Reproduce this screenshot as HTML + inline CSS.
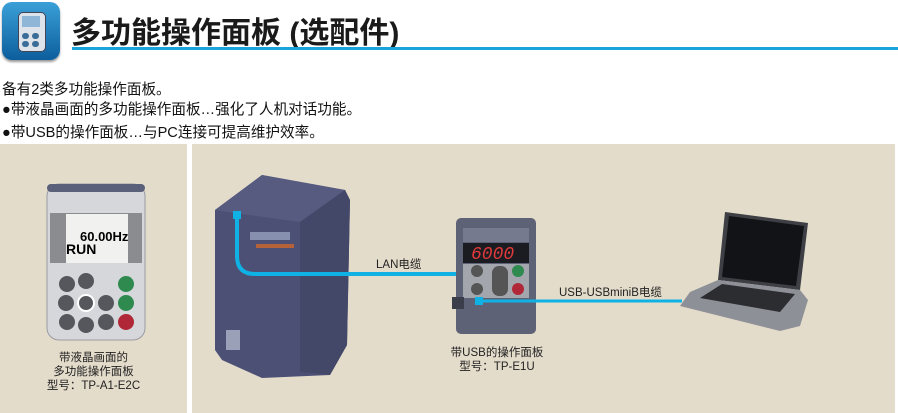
<!DOCTYPE html>
<html><head><meta charset="utf-8"><style>
body{margin:0;width:898px;height:413px;background:#fff;position:relative;overflow:hidden;font-family:"Liberation Sans","Noto Sans CJK SC",sans-serif;}
.a{position:absolute;}
.t{font-size:14.6px;color:#111;white-space:nowrap;}
.c{font-size:11.5px;color:#222;text-align:center;line-height:14px;}
</style></head><body>
<div class="a" style="left:2px;top:2px;width:58px;height:58px;border-radius:10px;background:linear-gradient(#3aa0d8,#0c5e9c);box-shadow:0 2px 2px #999"></div>
<div class="a" style="left:18px;top:12px;width:26px;height:38px;border-radius:5px;background:#dde3ea;border:1px solid #445"></div>
<div class="a" style="left:22px;top:16px;width:18px;height:11px;background:#8fb6d6"></div>
<div class="a" style="left:22px;top:33px;width:7px;height:6px;border-radius:3px;background:#3a6c98"></div>
<div class="a" style="left:32px;top:33px;width:7px;height:6px;border-radius:3px;background:#3a6c98"></div>
<div class="a" style="left:22px;top:41px;width:7px;height:6px;border-radius:3px;background:#3a6c98"></div>
<div class="a" style="left:32px;top:41px;width:7px;height:6px;border-radius:3px;background:#3a6c98"></div>
<div class="a" style="left:71px;top:8px;font-size:30px;font-weight:bold;color:#1a1a1a;white-space:nowrap">多功能操作面板 (选配件)</div>
<div class="a" style="left:72px;top:47px;width:826px;height:3px;background:#1aa4dc"></div>
<div class="a t" style="left:2px;top:78px">备有2类多功能操作面板。</div>
<div class="a t" style="left:2px;top:98px">●带液晶画面的多功能操作面板…强化了人机对话功能。</div>
<div class="a t" style="left:2px;top:121px">●带USB的操作面板…与PC连接可提高维护效率。</div>
<div class="a" style="left:0;top:144px;width:187px;height:269px;background:#e4dccb"></div>
<div class="a" style="left:192px;top:144px;width:703px;height:269px;background:#e4dccb"></div>
<svg class="a" style="left:0;top:0" width="898" height="413">
 <rect x="47" y="184" width="98" height="156" rx="12" fill="#d6d7da" stroke="#9a9aa3"/>
 <rect x="47" y="184" width="98" height="8" rx="4" fill="#5a5f7a"/>
 <rect x="50" y="213" width="92" height="50" fill="#8a8c90"/>
 <rect x="66" y="214" width="62" height="49" fill="#f1f1ef"/>
 <text x="80" y="241" font-size="13" font-weight="bold" font-family="Liberation Sans">60.00Hz</text>
 <text x="66" y="254" font-size="14" font-weight="bold" font-family="Liberation Sans">RUN</text>
 <g fill="#55575c">
 <circle cx="67" cy="284" r="8"/><circle cx="86" cy="281" r="8"/><circle cx="126" cy="284" r="8" fill="#2e8a4e"/>
 <circle cx="66" cy="303" r="8"/><circle cx="86" cy="303" r="8" stroke="#fff" stroke-width="2"/><circle cx="106" cy="303" r="8"/><circle cx="126" cy="303" r="8" fill="#2e8a4e"/>
 <circle cx="67" cy="322" r="8"/><circle cx="86" cy="325" r="8"/><circle cx="106" cy="322" r="8"/><circle cx="126" cy="322" r="8" fill="#b02838"/>
 </g>
 <polygon points="215,210 262,175 345,190 350,200 347,345 330,375 262,378 222,360 215,350" fill="#4c5075"/>
 <polygon points="215,210 262,175 345,190 300,222 228,212" fill="#575b80"/>
 <polygon points="300,222 345,190 350,200 347,345 330,375 300,372" fill="#444868"/>
 <rect x="226" y="330" width="14" height="20" fill="#9aa0b8"/>
 <rect x="250" y="232" width="40" height="8" fill="#8890b0"/>
 <rect x="256" y="244" width="38" height="4" fill="#b5623a"/>
 <path d="M237,215 V256 Q237,274 255,274 H457" fill="none" stroke="#10b2e6" stroke-width="4"/>
 <rect x="233" y="211" width="8" height="8" fill="#10b2e6"/>
 <rect x="456" y="218" width="80" height="116" rx="5" fill="#5e6276"/>
 <rect x="463" y="228" width="66" height="14" fill="#767a8e"/>
 <rect x="463" y="243" width="66" height="20" fill="#1b1c22"/>
 <text x="471" y="259" font-size="18" fill="#e03a3a" font-family="Liberation Mono" font-style="italic">6000</text>
 <rect x="463" y="264" width="66" height="34" fill="#a4a6ae"/>
 <circle cx="477" cy="271" r="6" fill="#555"/><circle cx="477" cy="289" r="6" fill="#555"/>
 <rect x="492" y="266" width="16" height="30" rx="7" fill="#555"/>
 <circle cx="518" cy="271" r="6" fill="#2e8a4e"/><circle cx="518" cy="289" r="6" fill="#b02838"/>
 <rect x="452" y="297" width="12" height="12" fill="#3a3d4a"/>
 <path d="M478,301 H682" stroke="#10b2e6" stroke-width="3"/>
 <rect x="475" y="297" width="8" height="8" fill="#10b2e6"/>
 <polygon points="725,212 808,223 800,290 718,280" fill="#3d3f44"/>
 <polygon points="729,216 804,226 796,286 722,277" fill="#121316"/>
 <polygon points="718,280 800,290 808,300 800,326 780,331 680,306 690,292" fill="#8d9096"/>
 <polygon points="722,284 795,294 780,312 700,298" fill="#2c2d31"/>
</svg>
<div class="a c" style="left:0;width:187px;top:351px">带液晶画面的<br>多功能操作面板<br>型号：TP-A1-E2C</div>
<div class="a c" style="left:437px;width:120px;top:346px">带USB的操作面板<br>型号：TP-E1U</div>
<div class="a" style="left:376px;top:256px;font-size:11.5px;color:#222">LAN电缆</div>
<div class="a" style="left:559px;top:284px;font-size:11.5px;color:#222">USB-USBminiB电缆</div>
</body></html>
